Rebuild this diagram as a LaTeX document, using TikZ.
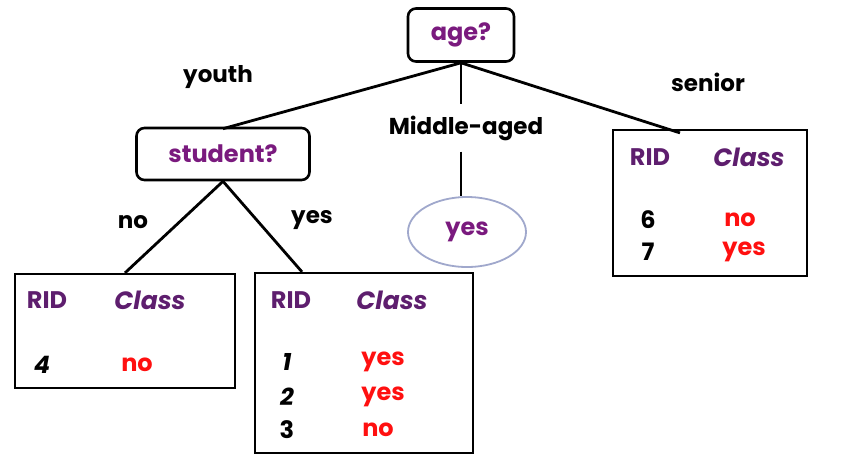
\documentclass[tikz,border=0pt]{standalone}
\usepackage{fontspec}
\setmainfont{Poppins}
\usetikzlibrary{shapes.geometric}
\definecolor{qpurple}{HTML}{7A1A7E}
\definecolor{hpurple}{HTML}{5E1E6E}
\definecolor{lred}{HTML}{FF1010}
\definecolor{ovalc}{HTML}{A0A8CC}
\begin{document}
\begin{tikzpicture}[x=1pt,y=-1pt,
  edge/.style={line width=2.8pt, black},
  testbox/.style={draw, line width=2.6pt, rounded corners=8pt, fill=white,
    font=\fontsize{24}{28}\selectfont\bfseries, text=qpurple},
  leafbox/.style={draw, line width=2.2pt, fill=white},
  lbl/.style={font=\fontsize{23}{28}\selectfont\bfseries, text=black},
  head/.style={font=\fontsize{24}{28}\selectfont\bfseries, text=hpurple},
  cls/.style={font=\fontsize{25}{28}\selectfont\bfseries\itshape, text=hpurple},
  num/.style={font=\fontsize{24}{28}\selectfont\bfseries, text=black},
  val/.style={font=\fontsize{24}{28}\selectfont\bfseries, text=lred}
]
\useasboundingbox (0,0) rectangle (846,459);

% decision nodes
\node[testbox, minimum width=106pt, minimum height=53pt] (age) at (461,35) {age?};
\node[testbox, minimum width=173pt, minimum height=52pt] (student) at (223,154) {student?};
\node[ellipse, draw=ovalc, line width=1.8pt, fill=white, minimum width=118pt, minimum height=70pt,
  font=\fontsize{24}{28}\selectfont\bfseries, text=qpurple] (leafmid) at (467,232) {yes};

% leaf tables
\node[leafbox, minimum width=220pt, minimum height=114pt] (leafno) at (125,331) {};
\node[leafbox, minimum width=218pt, minimum height=180pt] (leafyes) at (364,363) {};
\node[leafbox, minimum width=194pt, minimum height=146pt] (senior) at (710,203) {};

% branch labels
\node[lbl] (youth) at (218,77) {youth};
\node[lbl] (sen) at (708,82) {senior};
\node[lbl, inner xsep=1pt, inner ysep=11pt] (mid) at (466,128) {Middle-aged};
\node[lbl] (no) at (133,222) {no};
\node[lbl] (yes) at (312,220) {yes};

% branches
\draw[edge] (age.south) -- ([yshift=-2pt]student.north);
\draw[edge] (age.south) -- ([xshift=-30pt,yshift=-4pt]senior.north);
\draw[edge] (age.south) -- (age.south |- mid.north);
\draw[edge] (age.south |- mid.south) -- (age.south |- leafmid.north);
\draw[edge] (student.south) -- (leafno.north);
\draw[edge] (student.south) -- ([xshift=-62pt]leafyes.north);

% table: student = no
\node[head] (h1r) at (47,300) {RID};
\node[cls]  (h1c) at (150,300) {Class};
\node[num]  (r4)  at (42,365) {\itshape 4};
\node[val]  (c4)  at (137,365) {no};

% table: student = yes
\node[head] (h2r) at (291,300) {RID};
\node[cls]  (h2c) at (392,300) {Class};
\node[num]  (r1)  at (287,362) {\itshape 1};
\node[num]  (r2)  at (287,397) {\itshape 2};
\node[num]  (r3)  at (287,430) {3};
\node[val]  (c1)  at (383,362) {yes};
\node[val]  (c2)  at (383,397) {yes};
\node[val]  (c3)  at (378,430) {no};

% table: senior
\node[head] (h3r) at (650,157) {RID};
\node[cls]  (h3c) at (749,157) {Class};
\node[num]  (r6)  at (648,220) {6};
\node[num]  (r7)  at (648,252) {7};
\node[val]  (c6)  at (740,220) {no};
\node[val]  (c7)  at (744,252) {yes};
\end{tikzpicture}
\end{document}
